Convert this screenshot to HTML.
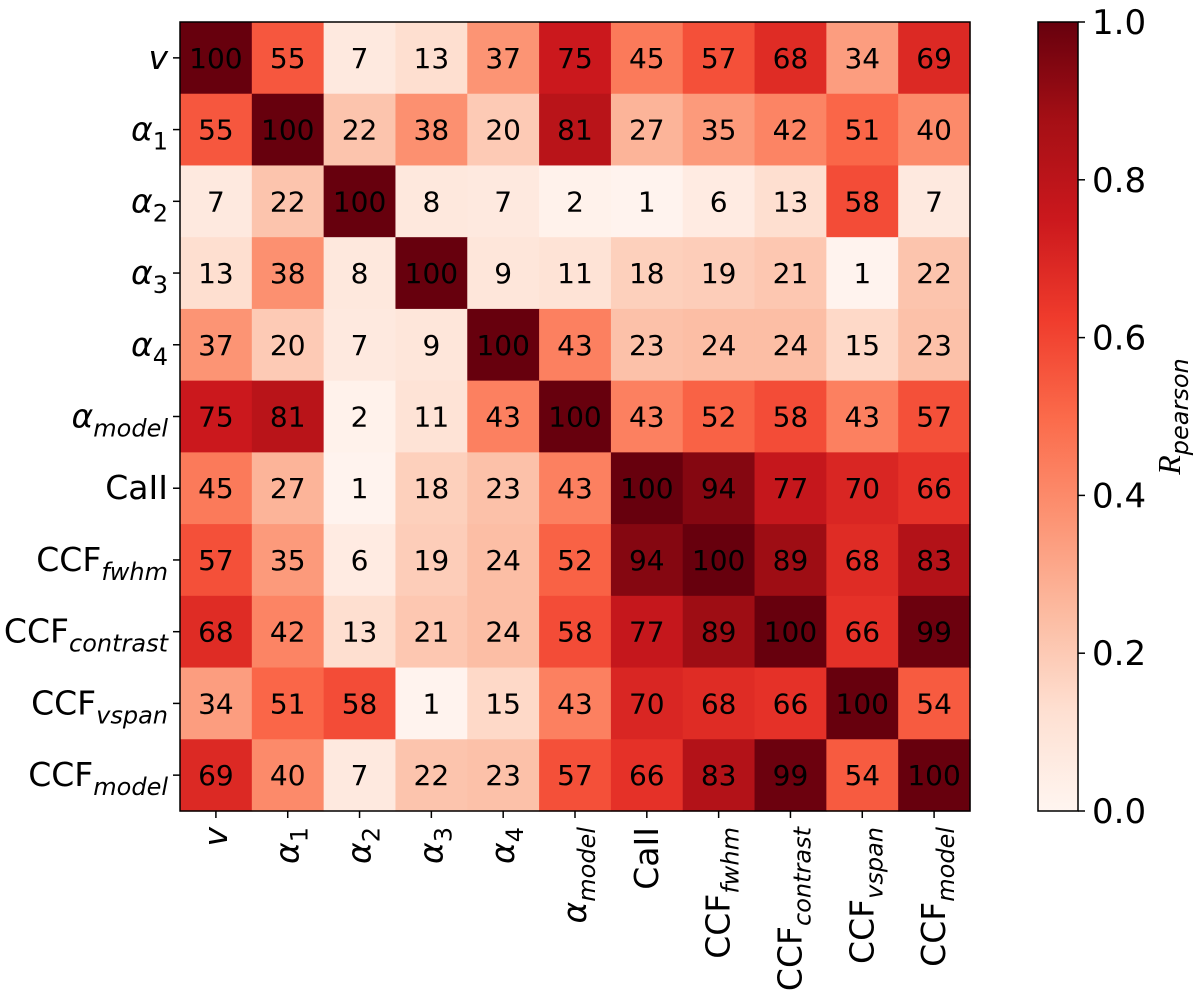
<!DOCTYPE html>
<html><head><meta charset="utf-8"><style>
body{margin:0;background:#fff;}
svg{display:block;font-family:"DejaVu Sans","Liberation Sans",sans-serif;}
</style></head><body>
<svg id="c" width="1200" height="993" viewBox="0 0 1200 993"></svg>
<script>
const rowLabels = ["v","α1","α2","α3","α4","αmodel","CaII","CCFfwhm","CCFcontrast","CCFvspan","CCFmodel"];
const labelMain = ["v","α","α","α","α","α","CaII","CCF","CCF","CCF","CCF"];
const labelSub = ["","1","2","3","4","model","","fwhm","contrast","vspan","model"];
const row0 = [100,55,7,13,37,75,45,57,68,34,69];
const row1 = [55,100,22,38,20,81,27,35,42,51,40];
const row2 = [7,22,100,8,7,2,1,6,13,58,7];
const row3 = [13,38,8,100,9,11,18,19,21,1,22];
const row4 = [37,20,7,9,100,43,23,24,24,15,23];
const row5 = [75,81,2,11,43,100,43,52,58,43,57];
const row6 = [45,27,1,18,23,43,100,94,77,70,66];
const row7 = [57,35,6,19,24,52,94,100,89,68,83];
const row8 = [68,42,13,21,24,58,77,89,100,66,99];
const row9 = [34,51,58,1,15,43,70,68,66,100,54];
const row10 = [69,40,7,22,23,57,66,83,99,54,100];
const matrix = [row0,row1,row2,row3,row4,row5,row6,row7,row8,row9,row10];
const cbTicks = [0,0.2,0.4,0.6,0.8,1.0];

const NS="http://www.w3.org/2000/svg";
const svg=document.getElementById('c');
const L=180,T=22,W=790,H=789;
const n=rowLabels.length, cw=W/n, ch=H/n;
const xs=i=>L+i*cw, ys=i=>T+i*ch;
const stops=["#fff5f0","#fee0d2","#fcbba1","#fc9272","#fb6a4a","#ef3b2c","#cb181d","#a50f15","#67000d"];
function hex(h){return [1,3,5].map(k=>parseInt(h.substr(k,2),16));}
function reds(t){t=Math.max(0,Math.min(1,t));const p=t*8,i=Math.min(7,Math.floor(p)),f=p-i;const a=hex(stops[i]),b=hex(stops[i+1]);return `rgb(${a.map((v,k)=>Math.round(v+(b[k]-v)*f)).join(',')})`;}
function el(tag,attrs,parent){const e=document.createElementNS(NS,tag);for(const k in attrs)e.setAttribute(k,attrs[k]);(parent||svg).appendChild(e);return e;}

for(let r=0;r<n;r++)for(let c=0;c<n;c++){
  const v=matrix[r][c];
  const rect=el('rect',{x:xs(c),y:ys(r),width:cw+0.6,height:ch+0.6,fill:reds(v/100)});
  
  
  const t=el('text',{x:xs(c)+cw/2,y:ys(r)+ch/2+10,'text-anchor':'middle','font-size':'28',fill:'#000'});
  t.textContent=v;
  
  
}
const fr=el('rect',{x:L,y:T,width:W,height:H,fill:'none',stroke:'#000','stroke-width':1.5});



function label(parent,i,x,y,anchor){
  const t=el('text',{x:x,y:y,'text-anchor':anchor,'font-size':'33',fill:'#000'},parent);
  const m=labelMain[i];
  const ms=el('tspan',{'font-style':(m==='v'||m==='α')?'italic':'normal'},t);ms.textContent=m;
  if(labelSub[i]){const s=el('tspan',{'font-size':'24','font-style':/^\d$/.test(labelSub[i])?'normal':'italic',dy:'9'},t);s.textContent=labelSub[i];}
  return t;
}
for(let i=0;i<n;i++){
  const y=ys(i)+ch/2;
  el('line',{x1:L-7,y1:y,x2:L,y2:y,stroke:'#000','stroke-width':1.5});
  const t=label(svg,i,L-12,y+11,'end');
  
  
  const x=xs(i)+cw/2;
  el('line',{x1:x,y1:T+H,x2:x,y2:T+H+7,stroke:'#000','stroke-width':1.5});
  const g=el('g',{transform:`translate(${x+11},${T+H+16}) rotate(-90)`});
  const t2=label(g,i,0,0,'end');
  
  
}
// colorbar
const CL=1038,CW=40;
const defs=el('defs',{});
const grad=el('linearGradient',{id:'g',x1:0,y1:1,x2:0,y2:0},defs);
stops.forEach((s,i)=>el('stop',{offset:i/8,'stop-color':s},grad));
const cb=el('rect',{x:CL,y:T,width:CW,height:H,fill:'url(#g)',stroke:'#000','stroke-width':1.5});


cbTicks.forEach(v=>{
  const y=T+H-v*H;
  el('line',{x1:CL+CW,y1:y,x2:CL+CW+7,y2:y,stroke:'#000','stroke-width':1.5});
  const t=el('text',{x:CL+CW+14,y:y+12,'font-size':'34',fill:'#000'});
  t.textContent=v.toFixed(1);
  
  
});
const lg=el('g',{transform:`translate(1180,${T+H/2}) rotate(-90)`});
const lt=el('text',{x:0,y:0,'text-anchor':'middle','font-size':'32','font-family':'"Liberation Serif",serif','font-style':'italic'},lg);
const a=el('tspan',{},lt);a.textContent='R';
const b=el('tspan',{'font-size':'24',dy:'8','font-family':'"DejaVu Sans",sans-serif'},lt);b.textContent='pearson';


</script>
</body></html>
